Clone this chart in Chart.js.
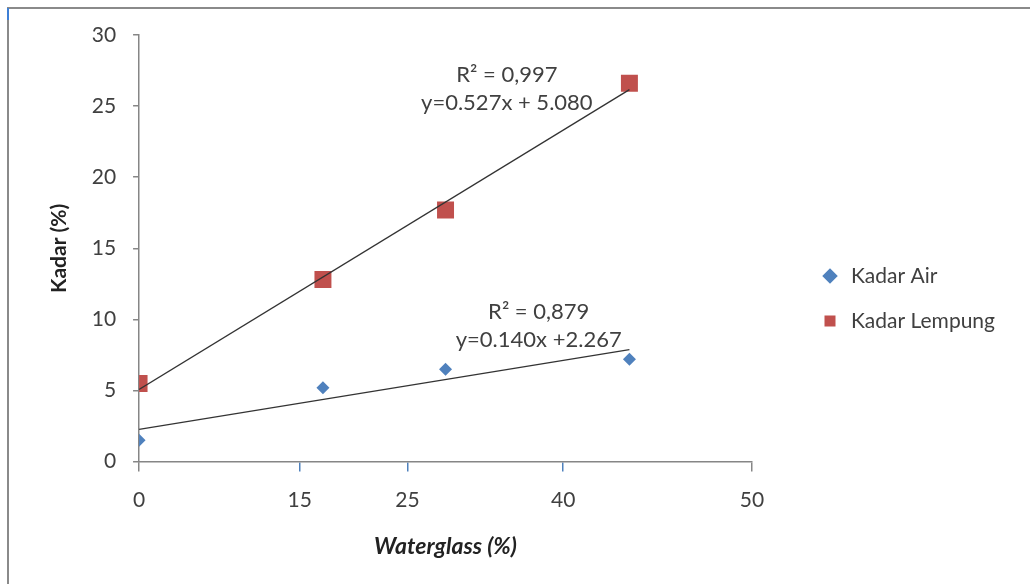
<!DOCTYPE html>
<html>
<head>
<meta charset="utf-8">
<script src="https://cdn.jsdelivr.net/npm/chart.js@4.4.1/dist/chart.umd.min.js"></script>
<style>
  html, body { margin: 0; padding: 0; background: #fff; }
  #wrap { width: 1030px; height: 584px; }
</style>
</head>
<body>
<div id="wrap"><canvas id="chart"></canvas></div>
<script>
// values
const waterglass = [0, 15, 25, 40];
const kadarAir = [1.5, 5.2, 6.5, 7.2];
const kadarLempung = [5.5, 12.8, 17.7, 26.6];

// trend line end points (x = 0 and x = 40)
const trendX = [0, 40];
const trendAir = [2.267, 7.867];
const trendLempung = [5.08, 26.16];

// the x axis labels sit where they sit in the original
const xTickValues = [0, 13.1, 21.9, 34.6, 50];
const xTickLabels = ['0', '15', '25', '40', '50'];

const eqLempung = ['R\u00b2 = 0,997', 'y=0.527x + 5.080'];
const eqAir = ['R\u00b2 = 0,879', 'y=0.140x +2.267'];

const FONT = 'Lato, "Open Sans", sans-serif';
const TEXT = '#404040';
const AXIS = '#868686';
const BLUE = '#4F81BD';
const RED = '#C0504D';

const toPts = (xs, ys) => xs.map((x, i) => ({ x: x, y: ys[i] }));

// grey frame round the figure, like the scanned original
const framePlugin = {
  id: 'frame',
  beforeDraw(chart) {
    const c = chart.ctx;
    c.save();
    c.fillStyle = '#fff';
    c.fillRect(0, 0, chart.width, chart.height);
    c.strokeStyle = '#8a8a8a';
    c.lineWidth = 2;
    c.beginPath();
    c.moveTo(8, chart.height);
    c.lineTo(8, 8);
    c.lineTo(chart.width, 8);
    c.stroke();
    c.strokeStyle = '#3d7fd6';
    c.beginPath();
    c.moveTo(8, 8);
    c.lineTo(8, 20);
    c.stroke();
    c.restore();
  }
};

// R² and equation text next to each trend line
const eqPlugin = {
  id: 'equations',
  afterDatasetsDraw(chart) {
    const c = chart.ctx;
    const xs = chart.scales.x, ys = chart.scales.y;
    const put = (lines, xv, yv) => {
      c.fillText(lines[0], xs.getPixelForValue(xv), ys.getPixelForValue(yv[0]));
      c.fillText(lines[1], xs.getPixelForValue(xv), ys.getPixelForValue(yv[1]));
    };
    c.save();
    c.font = '22px ' + FONT;
    c.fillStyle = TEXT;
    c.textAlign = 'center';
    c.textBaseline = 'middle';
    put(eqLempung, 30.0, [27.2, 25.2]);
    put(eqAir, 32.6, [10.5, 8.55]);
    c.restore();
  }
};

new Chart(document.getElementById('chart'), {
  type: 'scatter',
  data: {
    datasets: [
      {
        label: 'Kadar Air',
        data: toPts(waterglass, kadarAir),
        pointStyle: 'rectRot',
        pointRadius: 6.5,
        pointHoverRadius: 6.5,
        backgroundColor: BLUE,
        borderColor: BLUE,
        borderWidth: 0,
        order: 2
      },
      {
        label: 'Kadar Lempung',
        data: toPts(waterglass, kadarLempung),
        pointStyle: 'rect',
        pointRadius: 12,
        pointHoverRadius: 12,
        backgroundColor: RED,
        borderColor: RED,
        borderWidth: 0,
        order: 2
      },
      {
        label: 'trend air',
        data: toPts(trendX, trendAir),
        showLine: true,
        pointRadius: 0,
        borderColor: '#333',
        borderWidth: 1.3,
        order: 1
      },
      {
        label: 'trend lempung',
        data: toPts(trendX, trendLempung),
        showLine: true,
        pointRadius: 0,
        borderColor: '#333',
        borderWidth: 1.3,
        order: 1
      }
    ]
  },
  options: {
    responsive: true,
    maintainAspectRatio: false,
    animation: false,
    layout: { padding: { left: 30, top: 35, right: 25, bottom: 22 } },
    scales: {
      x: {
        type: 'linear',
        min: 0,
        max: 50,
        afterBuildTicks: s => { s.ticks = xTickValues.map(v => ({ value: v })); },
        ticks: {
          autoSkip: false,
          maxRotation: 0,
          padding: 16.4,
          color: TEXT,
          font: { family: FONT, size: 21 },
          callback: (v, i) => xTickLabels[i]
        },
        grid: {
          drawOnChartArea: false,
          tickLength: 10,
          lineWidth: 1.5,
          color: c => (c.index === 0 || c.index === xTickLabels.length - 1) ? AXIS : BLUE
        },
        border: { color: AXIS, width: 1.5 },
        title: {
          display: true,
          text: 'Waterglass (%)',
          color: '#222',
          font: { family: FONT, size: 23, weight: 'bold', style: 'italic' },
          padding: { top: 3.6, bottom: 1.2 }
        }
      },
      y: {
        min: 0,
        max: 30,
        ticks: {
          stepSize: 5,
          padding: 17,
          color: TEXT,
          font: { family: FONT, size: 21 }
        },
        grid: { drawOnChartArea: false, tickLength: 6, color: AXIS, lineWidth: 1.5 },
        border: { color: AXIS, width: 1.5 },
        title: {
          display: true,
          text: 'Kadar (%)',
          color: '#222',
          font: { family: FONT, size: 21, weight: 'bold' },
          padding: { top: 16.5, bottom: 3 }
        }
      },
      gap: {
        type: 'linear',
        position: 'right',
        display: false,
        afterFit: s => { s.width = 43.5; }
      }
    },
    plugins: {
      legend: {
        position: 'right',
        align: 'center',
        labels: {
          usePointStyle: true,
          boxWidth: 21,
          boxHeight: 11,
          padding: 24,
          color: TEXT,
          font: { family: FONT, size: 21 },
          filter: item => item.datasetIndex < 2
        }
      },
      tooltip: { enabled: false }
    }
  },
  plugins: [framePlugin, eqPlugin]
});
</script>
</body>
</html>
